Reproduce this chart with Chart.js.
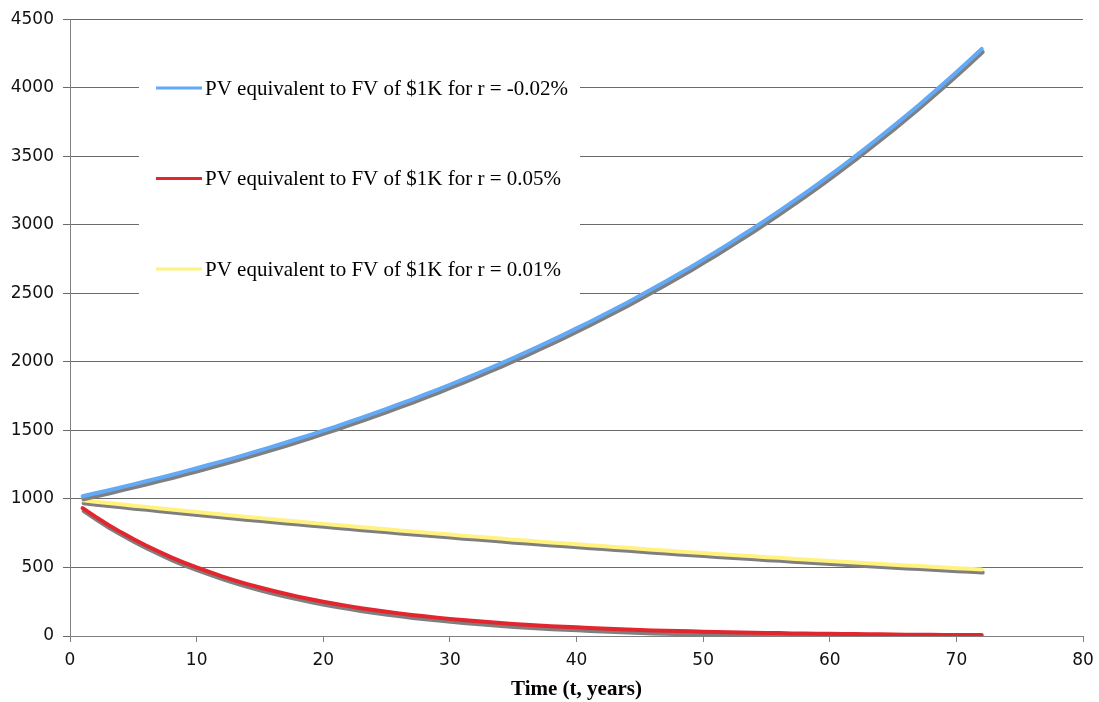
<!DOCTYPE html>
<html>
<head>
<meta charset="utf-8">
<title>PV equivalent to FV of $1K</title>
<script src="https://cdn.jsdelivr.net/npm/chart.js@4/dist/chart.umd.min.js"></script>
<style>
html, body { margin: 0; padding: 0; background: #fff; }
</style>
</head>
<body>
<canvas id="myChart" width="1099" height="702"></canvas>
<script>
// years 1..72
const years = Array.from({ length: 72 }, (_, i) => i + 1);

const seriesLabels = [
    'PV equivalent to FV of $1K for r = -0.02%',
    'PV equivalent to FV of $1K for r = 0.05%',
    'PV equivalent to FV of $1K for r = 0.01%'
];

const pvNeg002 = [
    1020, 1041, 1062, 1084, 1106, 1129, 1152, 1175, 1199, 1224,
    1249, 1274, 1300, 1327, 1354, 1382, 1410, 1439, 1468, 1498,
    1528, 1560, 1591, 1624, 1657, 1691, 1725, 1761, 1796, 1833,
    1871, 1909, 1948, 1987, 2028, 2069, 2112, 2155, 2199, 2244,
    2289, 2336, 2384, 2432, 2482, 2533, 2584, 2637, 2691, 2746,
    2802, 2859, 2918, 2977, 3038, 3100, 3163, 3228, 3294, 3361,
    3429, 3499, 3571, 3644, 3718, 3794, 3871, 3950, 4031, 4113,
    4197, 4283
];

const pv005 = [
    933, 871, 812, 758, 707, 660, 616, 574, 536, 500,
    467, 435, 406, 379, 354, 330, 308, 287, 268, 250,
    233, 218, 203, 190, 177, 165, 154, 144, 134, 125,
    117, 109, 102, 95, 88, 82, 77, 72, 67, 63,
    58, 54, 51, 47, 44, 41, 38, 36, 34, 31,
    29, 27, 25, 24, 22, 21, 19, 18, 17, 16,
    15, 14, 13, 12, 11, 10, 10, 9, 8, 8,
    7, 7
];

const pv001 = [
    990, 980, 970, 961, 951, 942, 932, 923, 914, 904,
    895, 886, 878, 869, 860, 851, 843, 835, 826, 818,
    810, 802, 794, 786, 778, 770, 762, 755, 747, 740,
    732, 725, 718, 711, 703, 696, 689, 683, 676, 669,
    662, 656, 649, 643, 636, 630, 624, 617, 611, 605,
    599, 593, 587, 581, 575, 570, 564, 558, 553, 547,
    542, 536, 531, 526, 520, 515, 510, 505, 500, 495,
    490, 485
];

const xTicks = [0, 10, 20, 30, 40, 50, 60, 70, 80];
const yTicks = [0, 500, 1000, 1500, 2000, 2500, 3000, 3500, 4000, 4500];

const seriesColors = ['#62A9F7', '#E3262E', '#FFF27E'];

function toPoints(values) {
    return values.map((v, i) => ({ x: years[i], y: v }));
}

// gray drop shadow under every line
const lineShadow = {
    id: 'lineShadow',
    beforeDatasetDraw(chart) {
        const ctx = chart.ctx;
        ctx.save();
        ctx.shadowColor = '#7f7f7f';
        ctx.shadowOffsetX = 1;
        ctx.shadowOffsetY = 3;
        ctx.shadowBlur = 0;
    },
    afterDatasetDraw(chart) {
        chart.ctx.restore();
    }
};

// legend sits inside the plot on a white box
const insideLegend = {
    id: 'insideLegend',
    afterDatasetsDraw(chart) {
        const ctx = chart.ctx;
        ctx.save();
        ctx.fillStyle = '#ffffff';
        ctx.fillRect(139, 40, 441, 270);
        ctx.font = '21px "Liberation Serif", "Times New Roman", serif';
        ctx.textBaseline = 'middle';
        chart.data.datasets.forEach((ds, i) => {
            const y = 88 + i * 90.5;
            ctx.strokeStyle = ds.borderColor;
            ctx.lineWidth = 3;
            ctx.beginPath();
            ctx.moveTo(156, y);
            ctx.lineTo(202, y);
            ctx.stroke();
            ctx.fillStyle = '#000';
            ctx.fillText(ds.label, 205, y + 1);
        });
        ctx.restore();
    }
};

const tickFont = { family: '"DejaVu Sans", Verdana, sans-serif', size: 17 };
const plainTick = v => String(v);

const ctx = document.getElementById('myChart').getContext('2d');
const chart = new Chart(ctx, {
    type: 'line',
    data: {
        datasets: [
            { label: seriesLabels[0], data: toPoints(pvNeg002), borderColor: seriesColors[0] },
            { label: seriesLabels[1], data: toPoints(pv005), borderColor: seriesColors[1] },
            { label: seriesLabels[2], data: toPoints(pv001), borderColor: seriesColors[2] }
        ]
    },
    options: {
        responsive: false,
        animation: false,
        devicePixelRatio: 1,
        layout: { padding: { top: 16, right: 16, left: 0, bottom: 0 } },
        elements: {
            line: { borderWidth: 4, tension: 0, borderCapStyle: 'round' },
            point: { radius: 0 }
        },
        plugins: {
            legend: { display: false },
            tooltip: { enabled: false }
        },
        scales: {
            x: {
                type: 'linear',
                min: xTicks[0],
                max: xTicks[xTicks.length - 1],
                afterBuildTicks(scale) { scale.ticks = xTicks.map(v => ({ value: v })); },
                afterFit(scale) {
                    scale.height = 66;
                    scale.paddingLeft = 0;
                    scale.paddingRight = 0;
                },
                border: { color: '#808080', width: 1 },
                grid: { drawOnChartArea: false, drawTicks: true, tickLength: 6, color: '#808080' },
                ticks: { font: tickFont, color: '#111', padding: 8, callback: plainTick },
                title: {
                    display: true,
                    text: 'Time (t, years)',
                    font: { family: '"Liberation Serif", "Times New Roman", serif', size: 21, weight: 'bold' },
                    color: '#000',
                    padding: { top: 0, bottom: 0 }
                }
            },
            y: {
                min: yTicks[0],
                max: yTicks[yTicks.length - 1],
                afterBuildTicks(scale) { scale.ticks = yTicks.map(v => ({ value: v })); },
                afterFit(scale) { scale.width = 70; },
                border: { color: '#808080', width: 1 },
                grid: { color: '#6a6a6a', tickLength: 7 },
                ticks: { font: tickFont, color: '#111', padding: 9, callback: plainTick }
            }
        }
    },
    plugins: [lineShadow, insideLegend]
});
</script>
</body>
</html>
